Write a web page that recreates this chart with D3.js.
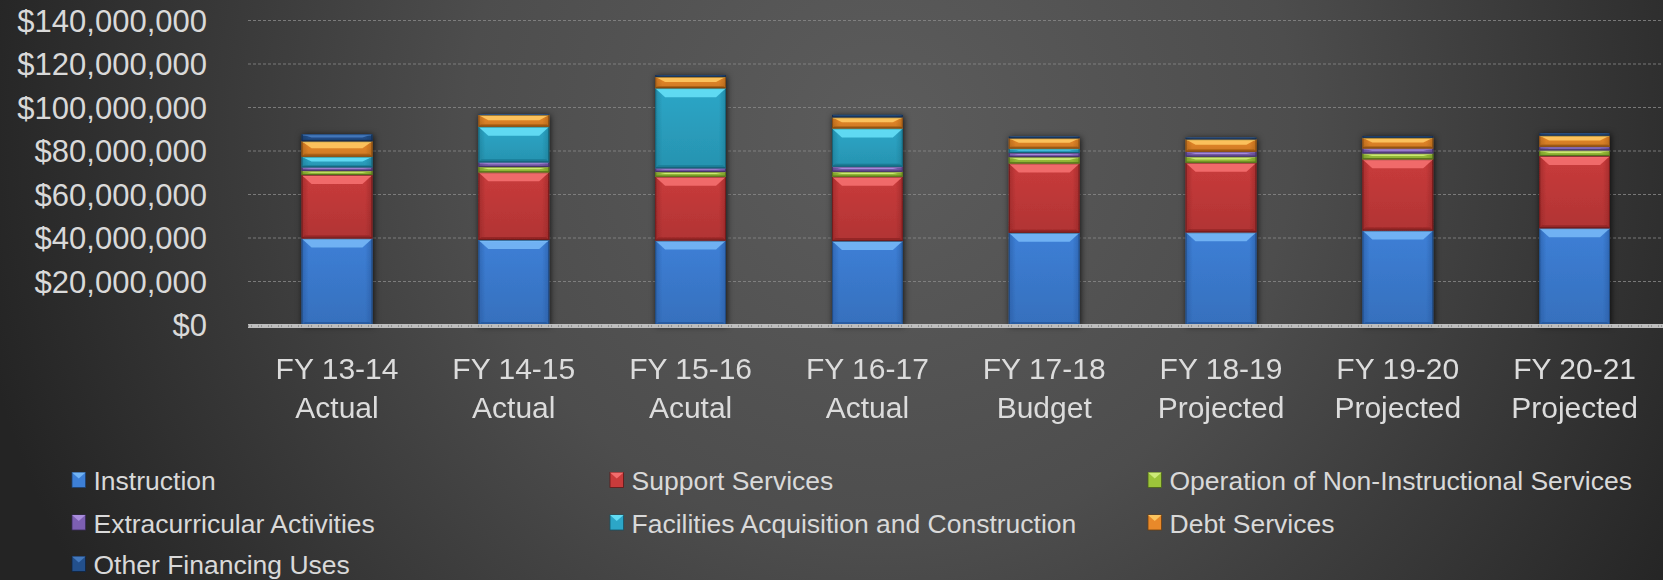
<!DOCTYPE html>
<html>
<head>
<meta charset="utf-8">
<script src="https://cdn.jsdelivr.net/npm/d3@7"></script>
<style>
  html, body { margin: 0; padding: 0; background: #2a2a2a; }
  svg { display: block; }
  text { font-family: "Liberation Sans", Arial, sans-serif; }
</style>
</head>
<body>
<svg id="chart" width="1663" height="580"></svg>
<script>
// ---------- DATA ----------
const categories = [
  ["FY 13-14", "Actual"],
  ["FY 14-15", "Actual"],
  ["FY 15-16", "Acutal"],
  ["FY 16-17", "Actual"],
  ["FY 17-18", "Budget"],
  ["FY 18-19", "Projected"],
  ["FY 19-20", "Projected"],
  ["FY 20-21", "Projected"]
];
const seriesNames = [
  "Instruction",
  "Support Services",
  "Operation of Non-Instructional Services",
  "Extracurricular Activities",
  "Facilities Acquisition and Construction",
  "Debt Services",
  "Other Financing Uses"
];
// values in dollars
const instruction      = [39.8e6, 39.1e6, 38.8e6, 38.6e6, 42.4e6, 42.6e6, 43.4e6, 44.5e6];
const supportServices  = [29.2e6, 31.1e6, 29.4e6, 29.6e6, 31.9e6, 32.0e6, 32.8e6, 33.2e6];
const nonInstructional = [1.9e6, 2.5e6, 2.2e6, 2.3e6, 2.9e6, 2.8e6, 2.7e6, 2.6e6];
const extracurricular  = [1.6e6, 2.1e6, 1.7e6, 2.3e6, 1.9e6, 2.3e6, 2.3e6, 1.7e6];
const facilities       = [4.9e6, 16.4e6, 36.8e6, 17.6e6, 2.0e6, 0, 0, 0];
const debtServices     = [7.1e6, 5.4e6, 5.2e6, 5.1e6, 4.8e6, 5.7e6, 4.9e6, 5.1e6];
const otherFinancing   = [3.2e6, 0.3e6, 0.8e6, 1.1e6, 0.7e6, 0.7e6, 0.8e6, 1.0e6];
const seriesValues = [instruction, supportServices, nonInstructional, extracurricular,
                      facilities, debtServices, otherFinancing];
const yTicks = [0, 20e6, 40e6, 60e6, 80e6, 100e6, 120e6, 140e6];

// ---------- STYLE ----------
const palette = [
  { base: "#3d7fd6", light: "#72b4f4", dark: "#27589e", edge: "#1d406f" },
  { base: "#c93b3b", light: "#f26d6d", dark: "#8f2424", edge: "#5e1717" },
  { base: "#9cc43a", light: "#cdea78", dark: "#6c8c22", edge: "#4a6217" },
  { base: "#7d5fb2", light: "#a98ddc", dark: "#553f82", edge: "#3a2b5a" },
  { base: "#2ca6c7", light: "#62dcf4", dark: "#1b7892", edge: "#135467" },
  { base: "#e8892a", light: "#fcc45e", dark: "#a65e14", edge: "#6f3f0e" },
  { base: "#23508c", light: "#4479bd", dark: "#173762", edge: "#0f2542" }
];

const W = 1663, H = 580;
const svg = d3.select("#chart");
const defs = svg.append("defs");

// background gradient
const bg = defs.append("radialGradient").attr("id", "bg")
  .attr("gradientUnits", "userSpaceOnUse")
  .attr("cx", 880).attr("cy", 130).attr("r", 920);
bg.append("stop").attr("offset", 0).attr("stop-color", "#5c5c5c");
bg.append("stop").attr("offset", 0.45).attr("stop-color", "#4d4d4d");
bg.append("stop").attr("offset", 1).attr("stop-color", "#242424");
svg.append("rect").attr("width", W).attr("height", H).attr("fill", "url(#bg)");

// per-series body gradients
palette.forEach((p, i) => {
  const g = defs.append("linearGradient").attr("id", "body" + i)
    .attr("x1", 0).attr("y1", 0).attr("x2", 0).attr("y2", 1);
  g.append("stop").attr("offset", 0).attr("stop-color", p.base);
  g.append("stop").attr("offset", 1).attr("stop-color", d3.color(p.base).darker(0.35));
  const s = defs.append("linearGradient").attr("id", "side" + i)
    .attr("x1", 0).attr("y1", 0).attr("x2", 1).attr("y2", 0);
  s.append("stop").attr("offset", 0).attr("stop-color", p.dark).attr("stop-opacity", 0.6);
  s.append("stop").attr("offset", 0.1).attr("stop-color", p.dark).attr("stop-opacity", 0);
  s.append("stop").attr("offset", 0.9).attr("stop-color", p.dark).attr("stop-opacity", 0);
  s.append("stop").attr("offset", 1).attr("stop-color", p.dark).attr("stop-opacity", 0.6);
});

const shadow = defs.append("filter").attr("id", "shadow")
  .attr("x", "-30%").attr("y", "-10%").attr("width", "160%").attr("height", "120%");
shadow.append("feDropShadow").attr("dx", 1).attr("dy", 1).attr("stdDeviation", 3)
  .attr("flood-color", "#000").attr("flood-opacity", 0.75);

// ---------- SCALES ----------
const x = d3.scaleBand().domain(d3.range(categories.length))
  .range([248.6, 1663]).paddingInner(0.6).paddingOuter(0.3);
const y = d3.scaleLinear().domain([0, 140e6]).range([325, 20.5]);

// gridlines
svg.append("g").selectAll("line").data(yTicks.filter(d => d > 0)).join("line")
  .attr("x1", 248).attr("x2", W)
  .attr("y1", d => y(d)).attr("y2", d => y(d))
  .attr("stroke", "#8a8a8a").attr("stroke-width", 1)
  .attr("stroke-dasharray", "3,2").attr("opacity", 0.8);

// y axis labels
const yAxis = d3.axisLeft(y).tickValues(yTicks).tickFormat(d3.format("$,")).tickSize(0).tickPadding(0);
const ya = svg.append("g").attr("transform", "translate(207,0)").call(yAxis);
ya.select(".domain").remove();
ya.selectAll("text").attr("fill", "#d9d9d9").attr("font-size", 31)
  .attr("dy", "0.35em").attr("font-family", "'Liberation Sans', Arial, sans-serif");

// stacked data
const stackInput = categories.map((c, i) => {
  const o = { idx: i };
  seriesValues.forEach((vals, s) => { o["s" + s] = vals[i]; });
  return o;
});
const stack = d3.stack().keys(seriesValues.map((_, s) => "s" + s));
const layers = stack(stackInput);

const barsG = svg.append("g").attr("filter", "url(#shadow)");
layers.forEach((layer, s) => {
  const p = palette[s];
  layer.forEach((d) => {
    const h0 = y(d[0]), h1 = y(d[1]);
    const h = h0 - h1;
    if (h <= 0.05) return;
    const bx = x(d.data.idx), w = x.bandwidth(), ty = h1;
    const g = barsG.append("g");
    g.append("rect").attr("x", bx).attr("y", ty).attr("width", w).attr("height", h)
      .attr("fill", `url(#body${s})`);
    g.append("rect").attr("x", bx).attr("y", ty).attr("width", w).attr("height", h)
      .attr("fill", `url(#side${s})`);
    const b = Math.min(9, h * 0.45);
    const bs = Math.min(10, w * 0.14);
    // top bevel
    g.append("polygon")
      .attr("points", [[bx, ty], [bx + w, ty], [bx + w - bs, ty + b], [bx + bs, ty + b]].map(q => q.join(",")).join(" "))
      .attr("fill", p.light).attr("opacity", 0.95);
    // highlight line
    g.append("line").attr("x1", bx + 1).attr("x2", bx + w - 1).attr("y1", ty + 0.6).attr("y2", ty + 0.6)
      .attr("stroke", d3.color(p.light).brighter(0.4)).attr("stroke-width", Math.min(1.2, h * 0.3));
    // bottom bevel
    const bb = Math.min(3, h * 0.2);
    g.append("polygon")
      .attr("points", [[bx, ty + h], [bx + w, ty + h], [bx + w - bb, ty + h - bb], [bx + bb, ty + h - bb]].map(q => q.join(",")).join(" "))
      .attr("fill", p.dark).attr("opacity", 0.85);
    // edge
    g.append("rect").attr("x", bx + 0.5).attr("y", ty + 0.5).attr("width", w - 1).attr("height", Math.max(0, h - 1))
      .attr("fill", "none").attr("stroke", p.edge).attr("stroke-width", 1).attr("opacity", 0.7);
  });
});

// baseline
svg.append("line").attr("x1", 248).attr("x2", W).attr("y1", y(0) + 1).attr("y2", y(0) + 1)
  .attr("stroke", "#bdbdbd").attr("stroke-width", 4);
svg.append("line").attr("x1", 248).attr("x2", W).attr("y1", y(0) + 1).attr("y2", y(0) + 1)
  .attr("stroke", "#6a6a6a").attr("stroke-width", 1).attr("stroke-dasharray", "1,2,1,6");

// x labels
const xl = svg.append("g").selectAll("text").data(categories).join("text")
  .attr("text-anchor", "middle").attr("fill", "#dcdcdc").attr("font-size", 30)
  .attr("x", (d, i) => x(i) + x.bandwidth() / 2);
xl.append("tspan").attr("x", (d, i) => x(i) + x.bandwidth() / 2).attr("y", 379).text(d => d[0]);
xl.append("tspan").attr("x", (d, i) => x(i) + x.bandwidth() / 2).attr("y", 418).text(d => d[1]);

// legend
const legCols = [93.5, 631.5, 1169.5];
const legRows = [490, 532.5, 574];
const leg = svg.append("g").selectAll("g").data(seriesNames).join("g")
  .attr("transform", (d, i) => `translate(${legCols[i % 3]},${legRows[Math.floor(i / 3)]})`);
leg.each(function (d, i) {
  const g = d3.select(this);
  const p = palette[i];
  const mx = -21.5, my = -17.5, mw = 13.5, mh = 15;
  g.append("rect").attr("x", mx).attr("y", my).attr("width", mw).attr("height", mh)
    .attr("fill", p.base).attr("stroke", p.edge).attr("stroke-width", 0.8);
  g.append("polygon")
    .attr("points", [[mx, my], [mx + mw, my], [mx + mw / 2, my + 6]].map(q => q.join(",")).join(" "))
    .attr("fill", p.light);
  g.append("text").attr("x", 0).attr("y", 0).attr("fill", "#d9d9d9").attr("font-size", 26.5).text(d);
});
</script>
</body>
</html>
